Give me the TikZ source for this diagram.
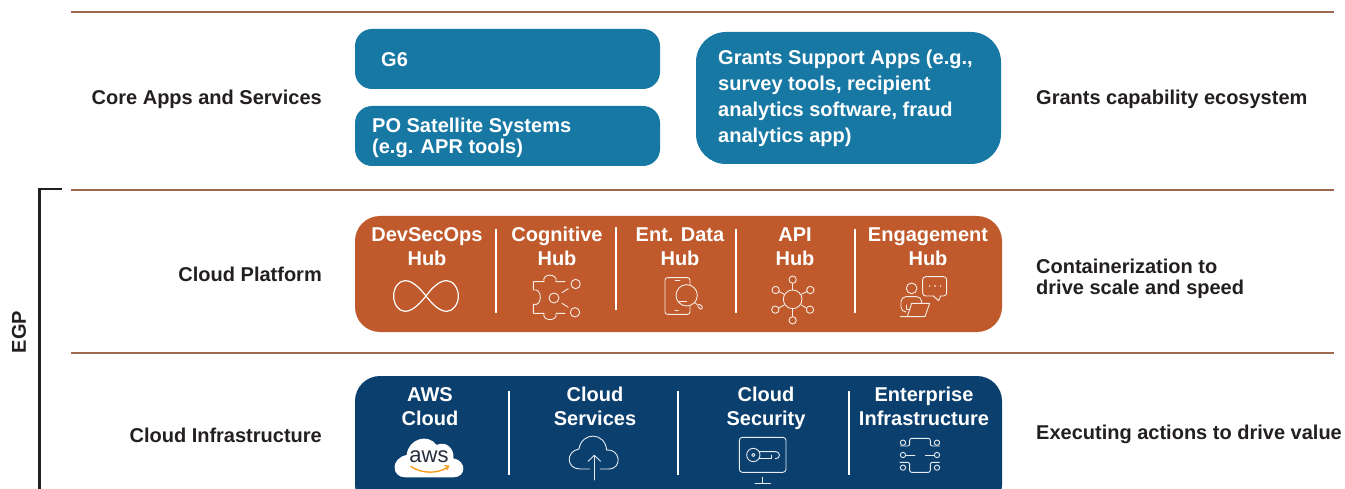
\documentclass[tikz,border=0pt]{standalone}
\usepackage{fontspec}
\setmainfont{Liberation Sans}
\definecolor{teal}{HTML}{1878A4}
\definecolor{rust}{HTML}{C05A2C}
\definecolor{navy}{HTML}{0B3F6E}
\definecolor{rule}{HTML}{A0684E}
\definecolor{ink}{HTML}{231F20}
\definecolor{awsorange}{HTML}{F79A1E}
\definecolor{awsink}{HTML}{252F3E}
\newcommand{\bigf}{\fontsize{20}{24}\selectfont\bfseries}
\tikzset{
  hubtext/.style={text=white,font=\bigf,align=center,inner sep=0,anchor=center},
  rowlabel/.style={text=ink,font=\bigf,inner sep=0,anchor=east},
  notelabel/.style={text=ink,font=\fontsize{20}{20.5}\selectfont\bfseries,inner sep=0,anchor=west,align=left},
  band/.style={rule,line width=1.3},
  sep/.style={white,line width=2},
  ico/.style={white!88!rust,line width=.9,line join=round,line cap=round},
  icon/.style={white!90!navy,line width=.9,line join=round,line cap=round},
  zoomA/.style={shift={(350,210)},x=.3333pt,y=-.3333pt},
  zoomB/.style={shift={(670,210)},x=.3333pt,y=-.3333pt},
  zoomC/.style={shift={(350,370)},x=.3333pt,y=-.3333pt},
  zoomD/.style={shift={(670,370)},x=.3333pt,y=-.3333pt},
}
\begin{document}
\begin{tikzpicture}[x=1pt,y=-1pt]
\useasboundingbox (0,0) rectangle (1345,489);
\clip (0,0) rectangle (1345,489);
% rules
\coordinate (r1a) at (71,12); \coordinate (r1b) at (1334,12);
\coordinate (r2a) at (71,190); \coordinate (r2b) at (1334,190);
\coordinate (r3a) at (71,353); \coordinate (r3b) at (1334,353);
\draw[band] (r1a)--(r1b);
\draw[band] (r2a)--(r2b);
\draw[band] (r3a)--(r3b);
% bracket
\coordinate (b1) at (62,189); \coordinate (b2) at (39.5,189); \coordinate (b3) at (39.5,492);
\draw[ink,line width=2.4] (b1)--(b2)--(b3);
\node[rotate=90,text=ink,font=\bigf,inner sep=0] (egp) at (19,332) {EGP};
% boxes
\fill[teal,rounded corners=17] (355,29) rectangle (660,89);
\fill[teal,rounded corners=17] (355,106) rectangle (660,166);
\fill[teal,rounded corners=30] (696,32) rectangle (1001,164);
\fill[rust,rounded corners=25] (355,216) rectangle (1002,332);
\fill[navy,rounded corners=25] (355,376) rectangle (1002,510);
% row labels
\node[rowlabel] (core) at (322,99) {Core Apps and Services};
\node[rowlabel] (plat) at (322,274) {Cloud Platform};
\node[rowlabel] (infra) at (322,435) {Cloud Infrastructure};
% right notes
\node[notelabel] (n1) at (1036,99) {Grants capability ecosystem};
\node[notelabel] (n2) at (1036,279) {Containerization to\\drive scale and speed};
\node[notelabel] (n3) at (1036,434) {Executing actions to drive value};
% teal texts
\node[text=white,font=\bigf,inner sep=0,anchor=west] (g6) at (381,60) {G6};
\node[text=white,font=\fontsize{20}{21}\selectfont\bfseries,inner sep=0,anchor=west,align=left] (po) at (372,138) {PO Satellite Systems\\(e.g. APR tools)};
\node[text=white,font=\fontsize{20}{26}\selectfont\bfseries,inner sep=0,anchor=west,align=left] (gs) at (718,98) {Grants Support Apps (e.g.,\\survey tools, recipient\\analytics software, fraud\\analytics app)};
% orange texts
\node[hubtext] (h1) at (427,247) {DevSecOps\\Hub};
\node[hubtext] (h2) at (557,246) {Cognitive\\Hub};
\node[hubtext] (h3) at (680,247) {Ent. Data\\Hub};
\node[hubtext] (h4) at (795,247) {API\\Hub};
\node[hubtext] (h5) at (928,247) {Engagement\\Hub};
% navy texts
\node[hubtext] (c1) at (430,407) {AWS\\Cloud};
\node[hubtext] (c2) at (595,406) {Cloud\\Services};
\node[hubtext] (c3) at (766,408) {Cloud\\Security};
\node[hubtext] (c4) at (924,406) {Enterprise\\Infrastructure};
% separators
\draw[sep] (496,229)--(496,313);
\draw[sep] (616,227)--(616,310);
\draw[sep] (735.5,229)--(735.5,313);
\draw[sep] (855,229)--(855,313);
\draw[sep] (508.5,391)--(508.5,475);
\draw[sep] (678,391)--(678,475);
\draw[sep] (848.5,391)--(848.5,475);
% infinity
\begin{scope}[zoomA]
\draw[white,line width=1.2] (228,258) .. controls (195,215) and (175,212) .. (165,212)
  .. controls (145,212) and (131,235) .. (131,258)
  .. controls (131,282) and (145,304) .. (165,304)
  .. controls (175,304) and (195,300) .. (228,258)
  .. controls (260,215) and (280,212) .. (290,212)
  .. controls (310,212) and (325,235) .. (325,258)
  .. controls (325,282) and (310,304) .. (290,304)
  .. controls (280,304) and (260,300) .. (228,258) -- cycle;
\end{scope}
% cognitive
\begin{scope}[zoomA]
\draw[ico] (645,215)--(618,215) .. controls (625,190) and (575,188) .. (582,215) -- (550,215) -- (550,240)
  .. controls (578,232) and (578,292) .. (550,283) -- (550,310) -- (582,310)
  .. controls (575,335) and (625,335) .. (618,310) -- (645,310);
\draw[ico] (677,222) circle (14);
\draw[ico] (612,264) circle (15);
\draw[ico] (675,307) circle (14);
\draw[ico] (636,248)--(655,236);
\draw[ico] (636,280)--(655,292);
\end{scope}
% data
\begin{scope}[zoomA]
\draw[ico,rounded corners=2.5] (1020,225)--(1020,203)--(945,203)--(945,313)--(1020,313)--(1020,290);
\draw[ico] (975,210)--(990,210);
\draw[ico] (975,301)--(985,301);
\end{scope}
\begin{scope}[zoomB]
\draw[ico] (50,256) circle (32);
\draw[ico] (74,278)--(82,284);
\draw[ico,rounded corners=1] (82,288)--(88,282)--(99,292)--(92,299)--cycle;
\draw[ico] (28,275)--(50,275);
\end{scope}
% api
\begin{scope}[zoomB]
\draw[ico] (368,268) circle (28);
\draw[ico] (368,209) circle (11);
\draw[ico] (368,331) circle (11);
\draw[ico] (317,240) circle (11);
\draw[ico] (421,240) circle (11);
\draw[ico] (316,299) circle (11);
\draw[ico] (420,299) circle (11);
\draw[ico] (368,220)--(368,240);
\draw[ico] (368,296)--(368,320);
\draw[ico] (328,245)--(343,253);
\draw[ico] (410,245)--(394,253);
\draw[ico] (327,294)--(343,285);
\draw[ico] (409,294)--(394,285);
\end{scope}
% engagement
\begin{scope}[zoomB]
\draw[ico] (725,235) circle (16);
\draw[ico,rounded corners=5] (706,306)--(693,306)--(693,260)--(755,260)--(755,278);
\draw[ico] (710,285)--(710,297)--(720,297);
\draw[ico] (691,320)--(765,320)--(779,280)--(725,280)--(712,320);
\draw[ico,rounded corners=3] (790,258)--(758,258)--(758,200)--(830,200)--(830,258)--(812,258);
\draw[ico] (790,258)--(806,272)--(812,258);
\fill[white] (779,228) circle (2.5) (795,228) circle (2.5) (812,228) circle (2.5);
\end{scope}
% aws
\begin{scope}[zoomC]
\fill[white] (165,322) .. controls (125,322) and (120,265) .. (170,255)
 .. controls (175,205) and (235,190) .. (260,225)
 .. controls (290,210) and (315,240) .. (310,265)
 .. controls (350,272) and (350,322) .. (310,322) -- cycle;
\draw[awsorange,line width=1.4] (182,289) .. controls (215,312) and (265,312) .. (293,291);
\draw[awsorange,line width=1.2] (283,287)--(296,288)--(291,300);
\end{scope}
\node[text=awsink,font=\fontsize{22}{22}\selectfont,inner sep=0] (aws) at (429,457) {aws};
% cloud services
\begin{scope}[zoomC]
\draw[icon] (718,297)--(690,297) .. controls (650,297) and (645,245) .. (687,237)
 .. controls (695,185) and (765,185) .. (770,240)
 .. controls (810,235) and (820,297) .. (775,297) -- (750,297);
\draw[icon] (733,330)--(733,256);
\draw[icon] (714,274)--(733,256)--(752,274);
\end{scope}
% cloud security
\begin{scope}[zoomD]
\draw[icon,rounded corners=3] (208,202) rectangle (348,307);
\draw[icon] (250,255) circle (20);
\draw[icon] (250,255) circle (5);
\draw[icon] (268,245)--(318,245) .. controls (332,245) and (332,268) .. (316,266);
\draw[icon] (268,265)--(305,265)--(305,255);
\draw[icon] (278,322)--(278,340);
\draw[icon] (255,340)--(301,340);
\end{scope}
% enterprise
\begin{scope}[zoomD]
\foreach \p in {(699,218),(699,255),(699,293),(801,218),(801,255),(801,293)}
  \draw[icon] \p circle (8);
\draw[icon,rounded corners=2] (692,228)--(719,228)--(719,205)--(781,205)--(781,228)--(808,228);
\draw[icon] (708,255)--(735,255);
\draw[icon] (766,255)--(792,255);
\draw[icon,rounded corners=2] (690,277)--(719,277)--(719,307)--(781,307)--(781,277)--(808,277);
\end{scope}
\end{tikzpicture}
\end{document}
